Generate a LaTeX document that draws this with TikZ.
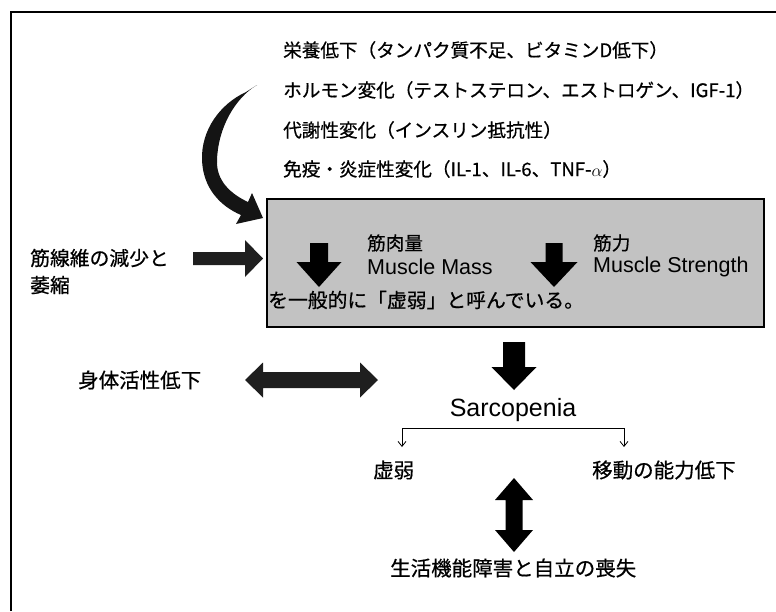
\documentclass[tikz,border=0pt]{standalone}
\usepackage{fontspec}
\setmainfont{Liberation Sans}
\newfontfamily\jp[FakeBold=0.6]{Noto Sans CJK JP}
\usetikzlibrary{arrows.meta}
\newcommand\myDown[6]{% cx, ytop, half shaft, half head, yhead, ytip
  \fill (#1-#3,#2) -- (#1+#3,#2) -- (#1+#3,#5) -- (#1+#4,#5) -- (#1,#6) -- (#1-#4,#5) -- (#1-#3,#5) -- cycle;}
\begin{document}
\begin{tikzpicture}[x=1pt,y=-1pt,
  jp/.style={font=\jp\fontsize{18.6}{18.6}\selectfont, anchor=west, inner sep=0pt},
  jpm/.style={font=\jp\fontsize{19.8}{19.8}\selectfont, anchor=west, inner sep=0pt},
  jpl/.style={font=\jp\fontsize{20.5}{20.5}\selectfont, anchor=west, inner sep=0pt},
  lat/.style={font=\fontsize{21.5}{21.5}\selectfont, anchor=west, inner sep=0pt},
  boxst/.style={draw, line width=1.6pt, fill=black!24, inner sep=0pt, anchor=north west},
  thinarr/.style={line width=0.8pt, {Straight Barb[length=5pt,width=8pt]}-{Straight Barb[length=5pt,width=8pt]}}]
\useasboundingbox (0,0) rectangle (776,611);
% frame (top and left edges)
\draw[line width=1.3pt] (11,611) -- (11,12) -- (776,12);

% top causes
\node[jp] (t1) at (283,50) {栄養低下（タンパク質不足、ビタミンD低下）};
\node[jp] (t2) at (283,90) {ホルモン変化（テストステロン、エストロゲン、IGF-1）};
\node[jp] (t3) at (283,130) {代謝性変化（インスリン抵抗性）};
\node[jp] (t4) at (283,169) {免疫・炎症性変化（IL-1、IL-6、TNF-$\alpha$）};

% curved arrow
\fill[black!92] (246,92) .. controls (220,104) and (201,130) .. (202,160)
  .. controls (203,188) and (220,206) .. (241,215) -- (236,224) -- (263,218)
  -- (252,193) -- (248,202) .. controls (231,194) and (216,181) .. (217,160)
  .. controls (218,128) and (235,98) .. (257,85) -- cycle;

% gray box
\node[boxst, minimum width=497pt, minimum height=128pt] (box) at (266,198) {};
\myDown{319}{243}{9}{22.5}{262}{287}
\myDown{554}{243}{8.5}{23.5}{262}{287}
\node[jp] (kinniku) at (367,243) {筋肉量};
\node[lat] (mm) at (367,267) {Muscle Mass};
\node[jp] (kinryoku) at (593,243) {筋力};
\node[lat] (ms) at (593,267) {Muscle Strength};
\node[jpm] (yobu) at (268,300) {を一般的に「虚弱」と呼んでいる。};

% left: fibre loss
\node[jpm] (kinsen) at (30,258) {筋線維の減少と};
\node[jpm] (ishuku) at (30,285) {萎縮};
\fill[black!88] (193,252) -- (245,252) -- (245,240) -- (263,258.5) -- (245,277) -- (245,265) -- (193,265) -- cycle;

% physical activity
\node[jpl] (katsudo) at (78,380) {身体活性低下};
\fill[black!88] (245,380) -- (263,362.5) -- (263,372) -- (360,372) -- (360,362.5) -- (378,380)
  -- (360,397.5) -- (360,388) -- (263,388) -- (263,397.5) -- cycle;

% sarcopenia
\myDown{514}{342}{11}{22.5}{367}{390}
\node[font=\fontsize{25}{25}\selectfont, inner sep=0pt] (sarc) at (513,410) {Sarcopenia};
\node[jpl] (kyo) at (373,470) {虚弱};
\node[jpl] (ido) at (592,470) {移動の能力低下};
\coordinate (bl) at (402,447);
\coordinate (br) at (624,447);
\draw[thinarr] (bl) -- (402,428) -- (624,428) -- (br);

% double vertical arrow
\fill (514,478) -- (533,500) -- (522.5,500) -- (522.5,530) -- (533,530) -- (514,552)
  -- (495,530) -- (505.5,530) -- (505.5,500) -- (495,500) -- cycle;
\node[jpl] (seikatsu) at (390,568) {生活機能障害と自立の喪失};
\end{tikzpicture}
\end{document}
